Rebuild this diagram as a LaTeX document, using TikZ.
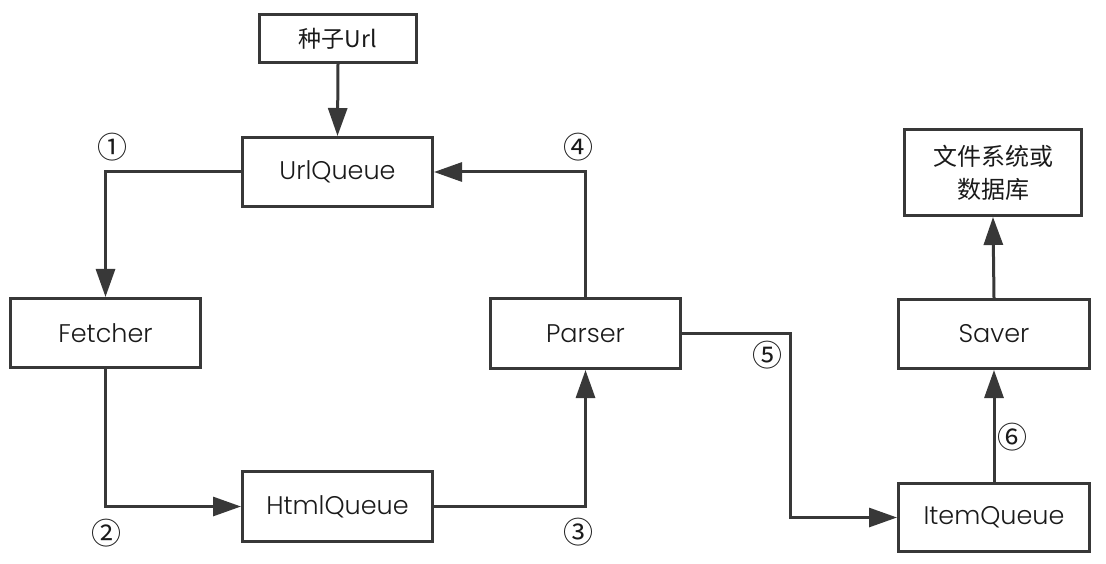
\documentclass[tikz,border=0pt]{standalone}
\usepackage{fontspec}
\setmainfont{Poppins}[UprightFont=* Light]
\newfontfamily\cjk{Noto Sans CJK SC}
\usetikzlibrary{arrows.meta}
\definecolor{ln}{HTML}{383838}
\definecolor{tx}{HTML}{1A1A1A}
\tikzset{
  box/.style={draw=ln, line width=3pt, rectangle, inner sep=0pt, text=tx,
    font=\fontsize{25.5}{30}\selectfont, minimum width=190pt, minimum height=69pt},
  conn/.style={draw=ln, line width=3pt},
  arr/.style={conn, -{Triangle[length=28pt,width=19pt]}},
  num/.style={text=tx, inner sep=0pt, font=\cjk\fontsize{30}{34}\selectfont}
}
\begin{document}
\begin{tikzpicture}[x=1pt,y=-1pt]
\useasboundingbox (0,0) rectangle (1106,564);
\node[box, minimum width=157pt, minimum height=48pt, font=\cjk\fontsize{23}{28}\selectfont] (seed) at (338,38.5) {种子Url};
\node[box] (urlq) at (337.5,172) {UrlQueue};
\node[box] (fetch) at (105.5,333) {Fetcher};
\node[box, minimum height=70pt] (parser) at (585.5,333.5) {Parser};
\node[box, minimum height=70pt] (htmlq) at (337.5,506.5) {HtmlQueue};
\node[box, minimum width=177pt, minimum height=86pt, align=center, font=\cjk\fontsize{24}{33}\selectfont] (db) at (993,172.5) {文件系统或\\数据库};
\node[box, minimum width=191pt] (saver) at (994,334) {Saver};
\node[box, minimum width=191pt, minimum height=68pt] (itemq) at (994,517.5) {ItemQueue};
\coordinate (k5) at (790,333.5);

\draw[arr] (seed.south) -- (urlq.north);
\draw[arr] (urlq.west) -| (fetch.north);
\draw[arr] (fetch.south) |- (htmlq.west);
\draw[arr] (htmlq.east) -| (parser.south);
\draw[arr] (parser.north) |- (urlq.east);
\draw[arr] (parser.east) -- (k5) |- (itemq.west);
\draw[arr] (itemq.north) -- (saver.south);
\draw[arr] (saver.north) -- (db.south);

\node[num] (n1) at (112,147) {①};
\node[num] (n2) at (106,533) {②};
\node[num] (n3) at (578,532) {③};
\node[num] (n4) at (578,147) {④};
\node[num] (n5) at (767,355) {⑤};
\node[num] (n6) at (1012,437) {⑥};
\end{tikzpicture}
\end{document}
